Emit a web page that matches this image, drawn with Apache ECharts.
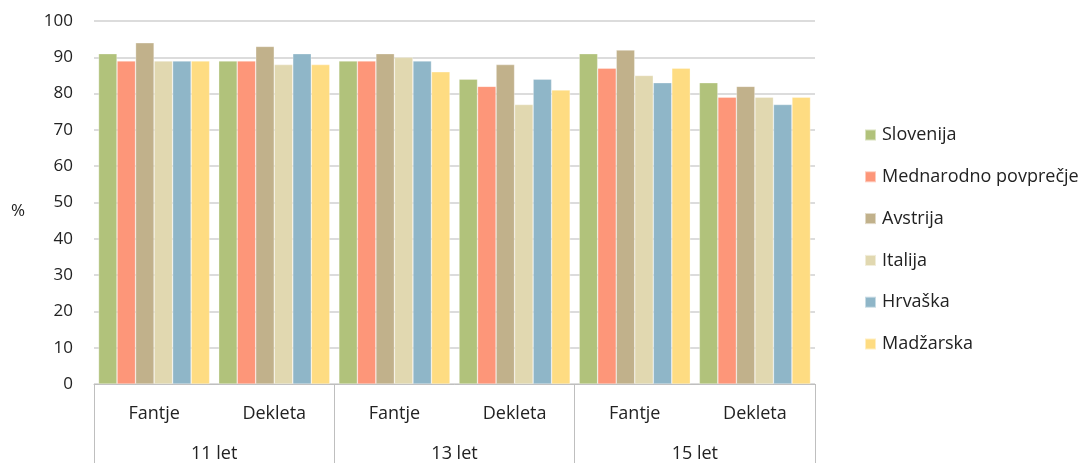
<!DOCTYPE html>
<html><head><meta charset="utf-8">
<script src="https://cdn.jsdelivr.net/npm/echarts@6/dist/echarts.min.js"></script>
<style>html,body{margin:0;padding:0;background:#fff}#c{width:1088px;height:463px}</style>
</head><body><div id="c"></div>
<script>
const categories = ['Fantje','Dekleta','Fantje','Dekleta','Fantje','Dekleta'];
const ageGroups = ['11 let','13 let','15 let'];
const seriesNames = ['Slovenija','Mednarodno povprečje','Avstrija','Italija','Hrvaška','Madžarska'];
const slovenija = [91, 89, 89, 84, 91, 83];
const mednarodno = [89, 89, 89, 82, 87, 79];
const avstrija = [94, 93, 91, 88, 92, 82];
const italija = [89, 88, 90, 77, 85, 79];
const hrvaska = [89, 91, 89, 84, 83, 77];
const madzarska = [89, 88, 86, 81, 87, 79];
const yTicks = [0,10,20,30,40,50,60,70,80,90,100];
const colors = ['#B1C27B','#FD9679','#C1B18B','#E1D8B0','#8FB6C8','#FEDC82'];
const values = [slovenija, mednarodno, avstrija, italija, hrvaska, madzarska];
const font = 'Open Sans';
const chart = echarts.init(document.getElementById('c'));
chart.setOption({
  animation:false,
  textStyle:{fontFamily:font},
  color:colors,
  grid:{left:94,right:273,top:21,bottom:76,containLabel:false},
  legend:{orient:'vertical',left:859,top:121,itemWidth:11,itemHeight:11,itemGap:23.8,
    icon:'rect',textStyle:{fontSize:18,color:'#222',fontFamily:font,padding:[0,0,0,1]},
    data:seriesNames},
  graphic:[{type:'text',left:11,top:203,style:{text:'%',fontSize:17,fill:'#222',fontFamily:font}}],
  xAxis:[
    {type:'category',data:categories,position:'bottom',
     axisLine:{show:true,lineStyle:{color:'#BFBFBF',width:1}},
     axisTick:{show:false},
     axisLabel:{margin:21,fontSize:18,color:'#222'}},
    {type:'category',data:ageGroups,position:'bottom',offset:0,
     axisLine:{show:false},
     axisTick:{show:true,interval:0,length:80,lineStyle:{color:'#BFBFBF'},alignWithLabel:false},
     axisLabel:{margin:61,fontSize:18,color:'#222'}}
  ],
  yAxis:{type:'value',min:0,max:100,interval:10,
    axisLine:{show:false},axisTick:{show:false},
    axisLabel:{fontSize:17,color:'#222',margin:21,formatter:v=>yTicks.includes(v)?String(v):''},
    splitLine:{lineStyle:{color:'#D0D0D0',width:1.5}}},
  series: seriesNames.map((n,i)=>({name:n,type:'bar',data:values[i],xAxisIndex:0,
    barGap:'0%',barCategoryGap:'7.5%',
    itemStyle:{color:colors[i],borderColor:'rgba(255,255,255,0.5)',borderWidth:0.6}}))
});
</script></body></html>
